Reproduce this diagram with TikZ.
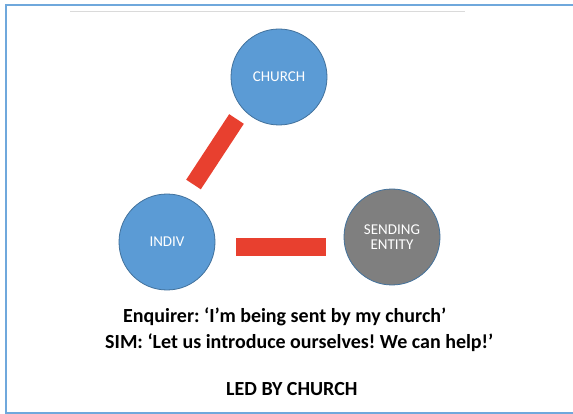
\documentclass[tikz,border=0pt]{standalone}
\usepackage{fontspec}
\setmainfont{Carlito}
\frenchspacing
\definecolor{officeblue}{HTML}{5B9BD5}
\definecolor{blueedge}{HTML}{41719C}
\definecolor{greyfill}{HTML}{7F7F7F}
\definecolor{barred}{HTML}{E8402F}
\definecolor{framecol}{HTML}{6FA8DC}
\definecolor{rulegrey}{HTML}{DADADA}
\begin{document}
\begin{tikzpicture}[x=1pt,y=-1pt,
  bubble/.style={circle,draw=blueedge,line width=0.8pt,minimum size=96pt,inner sep=0pt,text=white,font=\fontsize{15}{16}\selectfont,align=center},
  bar/.style={draw=barred,line width=17.5pt,line cap=butt},
  caption/.style={font=\bfseries\fontsize{20}{22}\selectfont,text=black,inner sep=0pt,anchor=base west}]
\useasboundingbox (0,0) rectangle (573,414);
\fill[white] (0,0) rectangle (573,414);
% frame (open on the right)
\draw[framecol,line width=2pt] (573,5) -- (5.5,5) -- (5.5,412.5) -- (573,412.5);
\draw[rulegrey,line width=1.5pt] (70,11.5) -- (465,11.5);
% circles
\node[bubble,fill=officeblue] (church) at (279,77) {CHURCH};
\node[bubble,fill=officeblue] (indiv) at (167,242) {INDIV};
\node[bubble,fill=greyfill] (sending) at (392,237) {SENDING\\[-1pt]ENTITY};
% connectors
\coordinate (d1) at (236.5,119);
\coordinate (d2) at (193.5,184.5);
\coordinate (h1) at (236,247);
\coordinate (h2) at (326,247);
\draw[bar] (d1) -- (d2);
\draw[bar] (h1) -- (h2);
% captions
\node[caption] (enq) at (123,322) {Enquirer: ‘I’m being sent by my church’};
\node[caption] (sim) at (105,348) {SIM: ‘Let us introduce ourselves! We can help!’};
\node[caption] (led) at (226,395) {LED BY CHURCH};
\end{tikzpicture}
\end{document}
